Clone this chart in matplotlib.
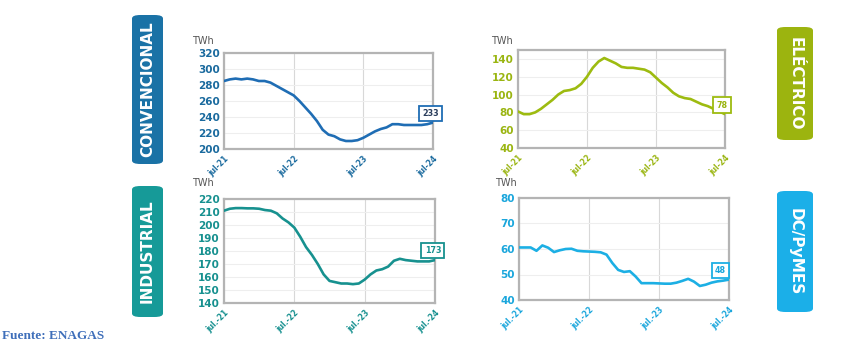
import numpy as np
import matplotlib.pyplot as plt
from matplotlib.patches import FancyBboxPatch

# monthly values, jul-21 .. jul-24 (TWh)
convencional = [285, 287, 288, 287, 288, 287, 285, 285, 283, 279, 275, 271, 267,
                260, 252, 244, 235, 224, 218, 216, 212, 210, 210, 211, 214, 218,
                222, 225, 227, 231, 231, 230, 230, 230, 230, 231, 233]
electrico = [81, 78, 78, 80, 84, 89, 94, 100, 104, 105, 107, 112, 120,
             130, 137, 141, 138, 135, 131, 130, 130, 129, 128, 125, 119, 113,
             108, 102, 98, 96, 95, 92, 89, 87, 84, 81, 78]
industrial = [211, 212.5, 213, 213, 212.8, 212.8, 212.5, 211.5, 211, 209, 205, 202, 198,
              191, 183, 177, 170, 162, 157, 156, 155, 155, 154.5, 155, 158, 162,
              165, 166, 168, 172.5, 174, 173, 172.5, 172, 172, 172, 173]
dc_pymes = [60.6, 60.6, 60.6, 59.3, 61.4, 60.5, 58.8, 59.5, 60, 60.1, 59.3, 59.1, 59,
            58.9, 58.7, 57.8, 54.5, 51.8, 51, 51.3, 49.2, 46.6, 46.6, 46.6, 46.5, 46.4,
            46.4, 46.8, 47.5, 48.3, 47.2, 45.5, 46, 46.8, 47.3, 47.6, 48]

labels_a = ["jul-21", "jul-22", "jul-23", "jul-24"]
labels_b = ["jul.-21", "jul.-22", "jul.-23", "jul.-24"]

W, H = 841, 346
fig = plt.figure(figsize=(W / 100, H / 100), dpi=100)


def rect(x0, y0, x1, y1):
    # pixel box -> figure fraction
    return [x0 / W, 1 - y1 / H, (x1 - x0) / W, (y1 - y0) / H]


panels = [
    dict(data=convencional, pos=(224, 53, 433, 149), ylim=(200, 320), yt=range(200, 321, 20),
         color="#1f6db4", tick="#1a6a9e", xl=labels_a, box=(132, 15, 163, 164), bcol="#1a72a6",
         name="CONVENCIONAL", rot=90, twh=(192, 44), off=(-1.5, 6.5), vcol="#2a3d5c"),
    dict(data=electrico, pos=(518, 50, 725, 148), ylim=(40, 150), yt=range(40, 141, 20),
         color="#9dbb10", tick="#9ab511", xl=labels_a, box=(777, 27, 813, 140), bcol="#9cb40f",
         name="ELÉCTRICO", rot=-90, twh=(491, 44), off=(-2, 6.5), vcol="#9ab511"),
    dict(data=industrial, pos=(224, 199, 435, 303), ylim=(140, 220), yt=range(140, 221, 10),
         color="#17918f", tick="#16908f", xl=labels_b, box=(132, 186, 163, 317), bcol="#169a98",
         name="INDUSTRIAL", rot=90, twh=(192, 186), off=(-1.5, 7), vcol="#16908f"),
    dict(data=dc_pymes, pos=(519, 198, 729, 300), ylim=(40, 80), yt=range(40, 81, 10),
         color="#1cafe4", tick="#1aa6dc", xl=labels_b, box=(777, 191, 813, 312), bcol="#1bafe8",
         name="DC/PyMES", rot=-90, twh=(495, 186), off=(-6, 6.5), vcol="#1aa6dc"),
]

for p in panels:
    ax = fig.add_axes(rect(*p["pos"]))
    y = p["data"]
    x = np.arange(len(y))
    ax.plot(x, y, color=p["color"], lw=1.9, solid_capstyle="round", zorder=3)
    ax.set_xlim(0, len(y) - 1)
    ax.set_ylim(*p["ylim"])
    ax.set_yticks(list(p["yt"]))
    ax.set_xticks([0, 12, 24, 36])
    ax.set_xticklabels(p["xl"], rotation=45, ha="right", va="top", rotation_mode="anchor",
                       fontsize=5.5, fontweight="bold", color=p["tick"])
    ax.tick_params(axis="y", length=0, pad=3, labelsize=7.5, labelcolor=p["tick"])
    ax.tick_params(axis="x", length=0, pad=4)
    for t in ax.get_yticklabels():
        t.set_fontweight("bold")
    ax.grid(axis="y", color="#eeeeee", lw=0.8)
    ax.grid(axis="x", color="#d8d8d8", lw=0.8)
    ax.set_axisbelow(True)
    for s in ax.spines.values():
        s.set_color("#b4b4b4")
        s.set_linewidth(1.6)

    ax.annotate(str(round(y[-1])), xy=(x[-1], y[-1]), xytext=p["off"],
                textcoords="offset points", ha="center", va="center",
                fontsize=5.8, fontweight="bold", color=p["vcol"],
                bbox=dict(boxstyle="square,pad=0.4", fc="white", ec=p["color"], lw=1.3),
                zorder=5, annotation_clip=False)

    fig.text(p["twh"][0] / W, 1 - p["twh"][1] / H, "TWh", fontsize=7, color="#555555",
             ha="left", va="baseline")

    bx0, by0, bx1, by1 = p["box"]
    fr = rect(bx0, by0, bx1, by1)
    fig.patches.append(FancyBboxPatch((fr[0], fr[1]), fr[2], fr[3],
                                      boxstyle="round,pad=0,rounding_size=0.01",
                                      transform=fig.transFigure, fc=p["bcol"], ec="none"))
    fig.text(fr[0] + fr[2] / 2, fr[1] + fr[3] / 2, p["name"], rotation=p["rot"],
             ha="center", va="center", fontsize=11, fontweight="bold", color="white")

fig.text(2 / W, 1 - 339 / H, "Fuente: ENAGAS", family="Liberation Serif",
         fontweight="bold", fontsize=9.5, color="#3f6fba", ha="left", va="baseline")

plt.savefig("out.png", dpi=100)
